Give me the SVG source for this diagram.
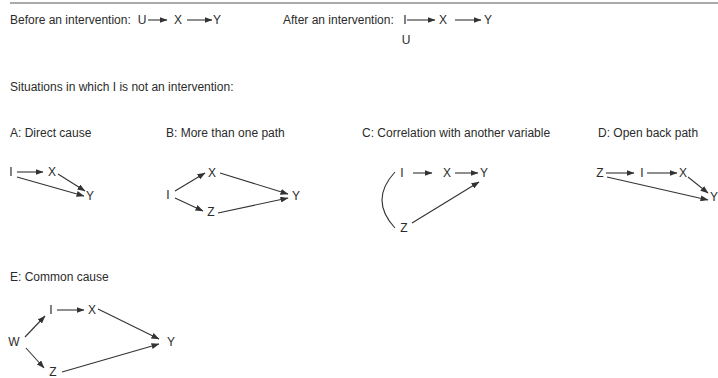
<svg xmlns="http://www.w3.org/2000/svg" width="718" height="378" viewBox="0 0 718 378">
<style>
text{font-family:"Liberation Sans",Arial,sans-serif;font-size:12px;fill:#2b2b2b}
.n text{text-anchor:middle}
.c line,.c path{stroke:#333;stroke-width:1.1;fill:none}
.c line{marker-end:url(#ah)}
</style>
<defs>
<marker id="ah" markerUnits="userSpaceOnUse" markerWidth="8" markerHeight="6" refX="7.5" refY="3" orient="auto"><path d="M0,0 L8,3 L0,6 z" fill="#333"/></marker>
</defs>
<rect width="718" height="378" fill="#fff"/>
<line x1="10" y1="3" x2="718" y2="3" stroke="#aaa" stroke-width="2"/>
<g id="labels">
<text x="10" y="24">Before an intervention:</text>
<text x="283" y="24">After an intervention:</text>
<text x="10" y="91">Situations in which I is not an intervention:</text>
<text x="10" y="137">A: Direct cause</text>
<text x="166" y="137">B: More than one path</text>
<text x="362" y="137">C: Correlation with another variable</text>
<text x="598" y="137">D: Open back path</text>
<text x="10" y="281">E: Common cause</text>
</g>
<g class="n">
<g id="pre-U"><text x="142" y="24">U</text></g>
<g id="pre-X"><text x="178" y="24">X</text></g>
<g id="pre-Y"><text x="217" y="24">Y</text></g>
<g id="post-I"><text x="405" y="24">I</text></g>
<g id="post-X"><text x="443" y="24">X</text></g>
<g id="post-Y"><text x="488" y="24">Y</text></g>
<g id="post-U"><text x="406" y="44">U</text></g>
<g id="a-I"><text x="11" y="176">I</text></g>
<g id="a-X"><text x="52" y="176">X</text></g>
<g id="a-Y"><text x="90" y="200">Y</text></g>
<g id="b-I"><text x="168" y="199">I</text></g>
<g id="b-X"><text x="212" y="177">X</text></g>
<g id="b-Z"><text x="211" y="216">Z</text></g>
<g id="b-Y"><text x="296" y="200">Y</text></g>
<g id="c-I"><text x="402" y="177">I</text></g>
<g id="c-X"><text x="447" y="177">X</text></g>
<g id="c-Y"><text x="484" y="177">Y</text></g>
<g id="c-Z"><text x="404" y="232">Z</text></g>
<g id="d-Z"><text x="600" y="177">Z</text></g>
<g id="d-I"><text x="642" y="177">I</text></g>
<g id="d-X"><text x="683" y="177">X</text></g>
<g id="d-Y"><text x="714" y="201">Y</text></g>
<g id="e-W"><text x="14" y="346">W</text></g>
<g id="e-I"><text x="51" y="314">I</text></g>
<g id="e-X"><text x="92" y="314">X</text></g>
<g id="e-Z"><text x="53" y="376">Z</text></g>
<g id="e-Y"><text x="171" y="346">Y</text></g>
</g>
<g class="c" id="connectors">
<line x1="148" y1="20" x2="167" y2="20"/>
<line x1="187" y1="20" x2="212" y2="20"/>
<line x1="407" y1="20" x2="435" y2="20"/>
<line x1="455" y1="20" x2="481" y2="20"/>
<line x1="17" y1="172" x2="43" y2="172"/>
<line x1="58" y1="174" x2="85" y2="191"/>
<line x1="17" y1="177" x2="84" y2="196"/>
<line x1="175" y1="191" x2="205" y2="173"/>
<line x1="175" y1="198" x2="203" y2="211"/>
<line x1="220" y1="173" x2="288" y2="194"/>
<line x1="218" y1="213" x2="288" y2="198"/>
<line x1="413" y1="173" x2="432" y2="173"/>
<line x1="455" y1="173" x2="478" y2="173"/>
<line x1="412" y1="223" x2="479" y2="182"/>
<path d="M395,172 Q369,200 395,228"/>
<line x1="606" y1="173" x2="634" y2="173"/>
<line x1="647" y1="173" x2="677" y2="173"/>
<line x1="688" y1="177" x2="708" y2="193"/>
<line x1="607" y1="177" x2="708" y2="200"/>
<line x1="25" y1="337" x2="45" y2="316"/>
<line x1="57" y1="310" x2="84" y2="310"/>
<line x1="98" y1="309" x2="159" y2="339"/>
<line x1="26" y1="348" x2="44" y2="368"/>
<line x1="62" y1="372" x2="159" y2="344"/>
</g>
</svg>
